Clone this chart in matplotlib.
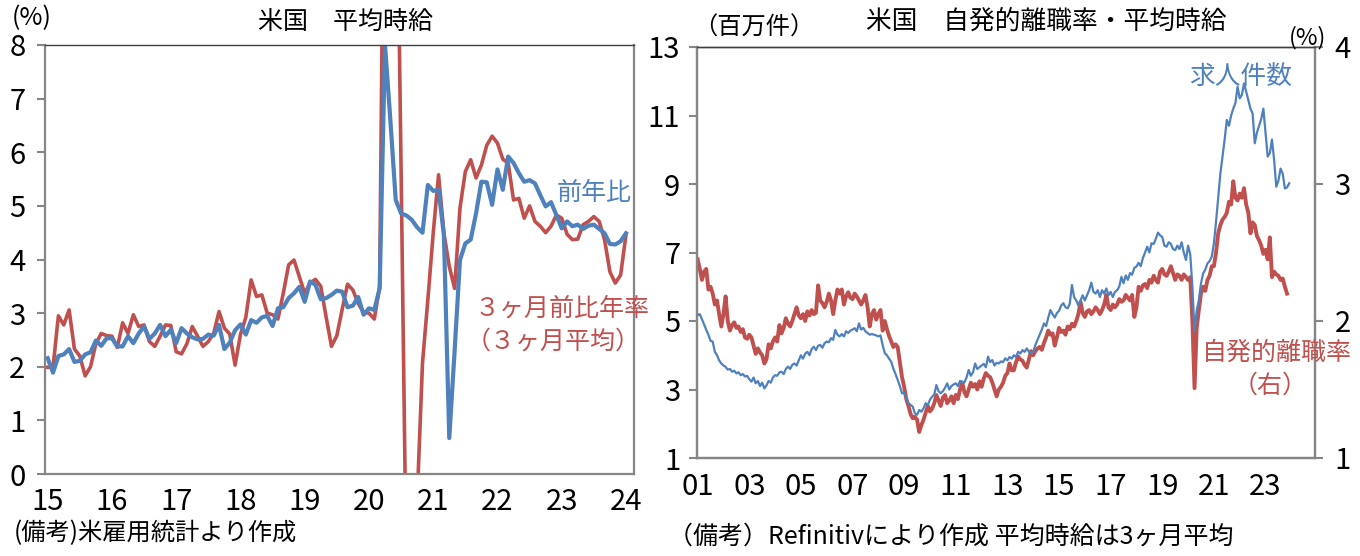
import matplotlib
matplotlib.use("Agg")
import matplotlib.pyplot as plt
import numpy as np

plt.rcParams['font.family'] = ['Noto Sans CJK JP', 'DejaVu Sans']
NUM_FONT = ['Liberation Sans Narrow', 'Noto Sans CJK JP', 'DejaVu Sans']

# ---------------- Left chart data: US average hourly earnings (2015/01 - 2024/01) ----------------
wage_yoy = [
    2.16, 1.89, 2.20, 2.23, 2.33, 2.09, 2.11, 2.23, 2.27, 2.49, 2.39, 2.53,   # 2015
    2.53, 2.38, 2.38, 2.57, 2.44, 2.62, 2.75, 2.52, 2.62, 2.78, 2.57, 2.69,   # 2016
    2.44, 2.72, 2.62, 2.55, 2.51, 2.52, 2.60, 2.58, 2.78, 2.33, 2.45, 2.68,   # 2017
    2.79, 2.60, 2.87, 2.82, 2.92, 2.95, 2.76, 3.09, 3.11, 3.28, 3.37, 3.49,   # 2018
    3.21, 3.59, 3.53, 3.26, 3.28, 3.34, 3.42, 3.40, 3.11, 3.14, 3.30, 2.97,   # 2019
    3.09, 3.06, 3.46, 8.00, 6.60, 5.11, 4.86, 4.82, 4.74, 4.60, 4.50, 5.39,   # 2020
    5.28, 5.30, 4.45, 0.67, 2.30, 3.99, 4.30, 4.37, 4.86, 5.45, 5.44, 5.02,   # 2021
    5.68, 5.30, 5.92, 5.80, 5.61, 5.45, 5.48, 5.42, 5.20, 4.99, 5.07, 4.83,   # 2022
    4.58, 4.71, 4.62, 4.65, 4.57, 4.63, 4.65, 4.57, 4.49, 4.29, 4.28, 4.34,   # 2023
    4.49,                                                                     # 2024
]
wage_3m_ann = [
    1.99, 1.99, 2.95, 2.78, 3.06, 2.33, 2.20, 1.83, 2.00, 2.43, 2.62, 2.58,   # 2015
    2.57, 2.36, 2.82, 2.62, 2.97, 2.75, 2.78, 2.47, 2.38, 2.57, 2.78, 2.77,   # 2016
    2.28, 2.24, 2.43, 2.75, 2.57, 2.38, 2.47, 2.62, 3.03, 2.72, 2.61, 2.03,   # 2017
    2.60, 2.92, 3.62, 3.31, 3.34, 3.00, 2.97, 2.89, 3.37, 3.90, 3.99, 3.68,   # 2018
    3.37, 3.56, 3.63, 3.50, 2.93, 2.38, 2.58, 3.07, 3.54, 3.43, 3.18, 3.01,   # 2019
    3.00, 2.89, 3.50, 14.0, 16.0, 13.0, 5.70, -2.0, -3.0, -0.5, 2.07, 3.25,   # 2020
    4.49, 5.58, 4.49, 3.87, 3.46, 4.96, 5.64, 5.86, 5.52, 5.76, 6.13, 6.30,   # 2021
    6.17, 5.87, 5.80, 5.11, 5.14, 4.77, 5.00, 4.71, 4.62, 4.50, 4.62, 4.83,   # 2022
    4.77, 4.47, 4.37, 4.38, 4.65, 4.71, 4.80, 4.71, 4.37, 3.77, 3.56, 3.71,   # 2023
    4.46,                                                                     # 2024
]
left_xlabels = ['15', '16', '17', '18', '19', '20', '21', '22', '23', '24']
left_yticks = [0, 1, 2, 3, 4, 5, 6, 7, 8]

# ---------------- Right chart data (2001/01 - 2023/12) ----------------
job_openings = [
    5.17, 5.20, 5.05, 4.90, 4.74, 4.60, 4.42, 4.40, 4.10, 4.00, 3.85, 3.76,   # 2001
    3.70, 3.66, 3.58, 3.60, 3.52, 3.55, 3.47, 3.50, 3.42, 3.45, 3.38, 3.40,   # 2002
    3.30, 3.23, 3.35, 3.18, 3.25, 3.10, 3.20, 3.03, 3.12, 3.25, 3.20, 3.35,   # 2003
    3.42, 3.40, 3.50, 3.52, 3.45, 3.60, 3.67, 3.60, 3.72, 3.76, 3.70, 3.85,   # 2004
    4.00, 3.90, 4.05, 4.10, 4.00, 4.18, 4.25, 4.15, 4.28, 4.30, 4.22, 4.35,   # 2005
    4.40, 4.38, 4.50, 4.45, 4.74, 4.60, 4.55, 4.62, 4.55, 4.70, 4.65, 4.72,   # 2006
    4.75, 4.79, 4.70, 4.93, 4.75, 4.80, 4.70, 4.65, 4.60, 4.62, 4.60, 4.58,   # 2007
    4.55, 4.58, 4.30, 4.06, 4.00, 3.90, 3.81, 3.60, 3.45, 3.28, 3.10, 2.89,   # 2008
    2.90, 2.75, 2.60, 2.55, 2.50, 2.30, 2.26, 2.40, 2.35, 2.45, 2.60, 2.55,   # 2009
    2.70, 2.79, 2.85, 3.13, 2.95, 2.89, 2.95, 3.05, 3.18, 3.00, 3.10, 3.15,   # 2010
    3.18, 3.10, 3.25, 3.23, 3.20, 3.35, 3.57, 3.40, 3.50, 3.76, 3.60, 3.65,   # 2011
    3.70, 3.75, 3.65, 3.96, 3.80, 3.86, 3.70, 3.78, 3.76, 3.82, 3.80, 3.91,   # 2012
    3.85, 3.95, 3.90, 4.00, 3.95, 4.10, 4.05, 4.15, 4.10, 4.20, 4.10, 4.05,   # 2013
    4.10, 4.30, 4.45, 4.60, 4.75, 4.93, 4.85, 5.10, 5.32, 5.20, 5.10, 5.23,   # 2014
    5.30, 5.45, 5.52, 5.40, 5.37, 5.50, 6.05, 5.70, 5.60, 5.45, 5.60, 5.75,   # 2015
    5.60, 5.75, 5.90, 6.12, 5.85, 5.80, 5.90, 5.70, 5.90, 5.80, 5.95, 5.75,   # 2016
    5.85, 5.70, 5.85, 5.90, 6.00, 6.29, 6.10, 6.33, 6.20, 6.40, 6.35, 6.55,   # 2017
    6.59, 6.70, 6.60, 6.84, 7.00, 7.17, 7.00, 7.27, 7.25, 7.40, 7.58, 7.50,   # 2018
    7.45, 7.20, 7.17, 7.30, 7.25, 7.10, 7.07, 7.20, 7.10, 7.30, 7.00, 6.78,   # 2019
    7.20, 6.95, 6.00, 4.69, 5.30, 5.61, 6.10, 6.39, 6.50, 6.68, 6.75, 6.88,   # 2020
    7.27, 7.90, 8.60, 9.30, 9.80, 10.30, 10.87, 10.70, 11.00, 11.20, 11.36, 11.84,  # 2021
    11.50, 11.60, 11.94, 11.70, 11.45, 11.20, 11.06, 10.19, 10.50, 10.70, 10.90, 11.20,  # 2022
    10.50, 9.80, 9.90, 10.30, 9.70, 8.92, 9.10, 9.45, 9.30, 8.87, 8.90, 9.02,  # 2023
]
quits_rate = [
    2.45, 2.38, 2.30, 2.36, 2.38, 2.23, 2.25, 2.20, 2.12, 2.15, 2.05, 1.96,   # 2001
    2.05, 2.18, 2.00, 1.93, 1.97, 1.99, 1.95, 1.96, 1.92, 1.94, 1.88, 1.87,   # 2002
    1.90, 1.88, 1.82, 1.76, 1.80, 1.77, 1.75, 1.69, 1.72, 1.83, 1.80, 1.85,   # 2003
    1.88, 1.85, 1.97, 1.91, 1.95, 2.02, 1.98, 1.96, 2.00, 2.05, 2.10, 2.04,   # 2004
    2.02, 2.05, 2.00, 2.07, 2.04, 2.08, 2.05, 2.06, 2.26, 2.15, 2.13, 2.10,   # 2005
    2.14, 2.20, 2.15, 2.05, 2.15, 2.23, 2.20, 2.23, 2.12, 2.18, 2.21, 2.17,   # 2006
    2.16, 2.20, 2.18, 2.15, 2.12, 2.15, 2.19, 2.10, 1.96, 2.05, 2.08, 2.01,   # 2007
    2.05, 2.08, 1.93, 2.00, 1.94, 1.89, 1.85, 1.81, 1.83, 1.81, 1.70, 1.59,   # 2008
    1.52, 1.43, 1.38, 1.32, 1.29, 1.30, 1.28, 1.19, 1.24, 1.28, 1.33, 1.38,   # 2009
    1.34, 1.36, 1.40, 1.46, 1.42, 1.38, 1.44, 1.46, 1.40, 1.42, 1.45, 1.40,   # 2010
    1.46, 1.43, 1.50, 1.55, 1.48, 1.45, 1.50, 1.55, 1.52, 1.54, 1.50, 1.56,   # 2011
    1.52, 1.58, 1.62, 1.60, 1.59, 1.55, 1.50, 1.45, 1.50, 1.52, 1.55, 1.60,   # 2012
    1.62, 1.69, 1.64, 1.64, 1.70, 1.74, 1.72, 1.71, 1.68, 1.66, 1.72, 1.78,   # 2013
    1.75, 1.78, 1.80, 1.81, 1.79, 1.84, 1.88, 1.93, 1.90, 1.91, 1.82, 1.88,   # 2014
    1.95, 1.92, 1.93, 1.90, 1.96, 1.94, 1.98, 1.96, 2.00, 2.05, 2.14, 2.06,   # 2015
    2.03, 2.07, 2.08, 2.05, 2.07, 2.10, 2.08, 2.05, 2.08, 2.12, 2.19, 2.10,   # 2016
    2.08, 2.12, 2.10, 2.12, 2.16, 2.14, 2.15, 2.19, 2.17, 2.15, 2.19, 2.03,   # 2017
    2.10, 2.25, 2.22, 2.26, 2.27, 2.24, 2.30, 2.28, 2.33, 2.30, 2.28, 2.36,   # 2018
    2.38, 2.34, 2.33, 2.36, 2.40, 2.35, 2.30, 2.34, 2.33, 2.30, 2.34, 2.32,   # 2019
    2.30, 2.32, 2.00, 1.51, 1.95, 2.08, 2.20, 2.25, 2.22, 2.30, 2.33, 2.40,   # 2020
    2.40, 2.50, 2.64, 2.70, 2.74, 2.76, 2.79, 2.87, 2.85, 3.02, 2.90, 2.88,   # 2021
    2.93, 2.90, 2.97, 2.85, 2.79, 2.64, 2.72, 2.70, 2.62, 2.59, 2.55, 2.49,   # 2022
    2.52, 2.45, 2.61, 2.32, 2.36, 2.34, 2.33, 2.30, 2.31, 2.25, 2.20,         # 2023 (to Nov)
]
right_xlabels = ['01', '03', '05', '07', '09', '11', '13', '15', '17', '19', '21', '23']
right_left_yticks = [1, 3, 5, 7, 9, 11, 13]
right_right_yticks = [1, 2, 3, 4]

BLUE = '#4F81BD'
RED = '#C0504D'
SPINE = '#868686'

W, H = 1360, 556
fig = plt.figure(figsize=(W / 100, H / 100), dpi=100)


def fx(px):
    return px / W


def fy(py):
    return 1 - py / H


def style_axes(ax):
    for s in ['left', 'bottom', 'right']:
        ax.spines[s].set_color(SPINE)
        ax.spines[s].set_linewidth(1.6)
    ax.spines['top'].set_color('#404040')
    ax.spines['top'].set_linewidth(1.0)


# ---------------- Left chart ----------------
axL = fig.add_axes([fx(45), fy(474), fx(634) - fx(45), fy(45) - fy(474)])
xL = np.arange(len(wage_yoy))
axL.plot(np.arange(len(wage_3m_ann)), wage_3m_ann, color=RED, lw=2.6, solid_joinstyle='round')
axL.plot(xL, wage_yoy, color=BLUE, lw=3.0, solid_joinstyle='round')
axL.set_xlim(-0.5, 109.5)
axL.set_ylim(0, 8)
axL.set_yticks(left_yticks)
axL.set_yticklabels([str(v) for v in left_yticks], fontfamily=NUM_FONT, fontsize=21)
axL.set_xticks(np.arange(0, 12 * len(left_xlabels), 12))
axL.set_xticklabels(left_xlabels, fontfamily=NUM_FONT, fontsize=21)
axL.tick_params(axis='y', length=6, width=1.5, color=SPINE, pad=8)
axL.tick_params(axis='x', length=0, pad=9)
style_axes(axL)

fig.text(fx(346), fy(22), '米国　平均時給', ha='center', va='center', fontsize=18)
fig.text(fx(12), fy(18), '(%)', ha='left', va='center', fontsize=18)
fig.text(fx(594), fy(193), '前年比', ha='center', va='center', fontsize=18, color=BLUE)
fig.text(fx(562), fy(309), '３ヶ月前比年率', ha='center', va='center', fontsize=18, color=RED)
fig.text(fx(553), fy(342), '（３ヶ月平均）', ha='center', va='center', fontsize=18, color=RED)
fig.text(fx(14), fy(533), '(備考)米雇用統計より作成', ha='left', va='center', fontsize=17.5)

# ---------------- Right chart ----------------
axR = fig.add_axes([fx(697), fy(458), fx(1315) - fx(697), fy(47) - fy(458)])
axR2 = axR.twinx()
axR2.plot(np.arange(len(quits_rate)), quits_rate, color=RED, lw=2.8, solid_joinstyle='round')
axR.plot(np.arange(len(job_openings)), job_openings, color=BLUE, lw=1.6, solid_joinstyle='round', zorder=3)
axR.set_zorder(axR2.get_zorder() + 1)
axR.patch.set_visible(False)
axR.set_xlim(-0.3, 287)
axR.set_ylim(1, 13)
axR2.set_ylim(1, 4)
axR.set_yticks(right_left_yticks)
axR.set_yticklabels([str(v) for v in right_left_yticks], fontfamily=NUM_FONT, fontsize=21)
axR2.set_yticks(right_right_yticks)
axR2.set_yticklabels([str(v) for v in right_right_yticks], fontfamily=NUM_FONT, fontsize=21)
axR.set_xticks(np.arange(0, 24 * len(right_xlabels), 24))
axR.set_xticklabels(right_xlabels, fontfamily=NUM_FONT, fontsize=21)
axR.tick_params(axis='y', length=6, width=1.5, color=SPINE, pad=6)
axR2.tick_params(axis='y', length=6, width=1.5, color=SPINE, pad=8)
axR.tick_params(axis='x', length=0, pad=10)
style_axes(axR)
style_axes(axR2)

fig.text(fx(1046), fy(22), '米国　自発的離職率・平均時給', ha='center', va='center', fontsize=18.5)
fig.text(fx(693), fy(28), '（百万件）', ha='left', va='center', fontsize=17.5)
fig.text(fx(1308), fy(38), '(%)', ha='center', va='center', fontsize=17)
fig.text(fx(1241), fy(77), '求人件数', ha='center', va='center', fontsize=18.5, color=BLUE)
fig.text(fx(1277), fy(353), '自発的離職率', ha='center', va='center', fontsize=18, color=RED)
fig.text(fx(1270), fy(386), '（右）', ha='center', va='center', fontsize=18, color=RED)
fig.text(fx(668), fy(537), '（備考）Refinitivにより作成 平均時給は3ヶ月平均', ha='left', va='center', fontsize=18)

fig.savefig('out.png', dpi=100)
